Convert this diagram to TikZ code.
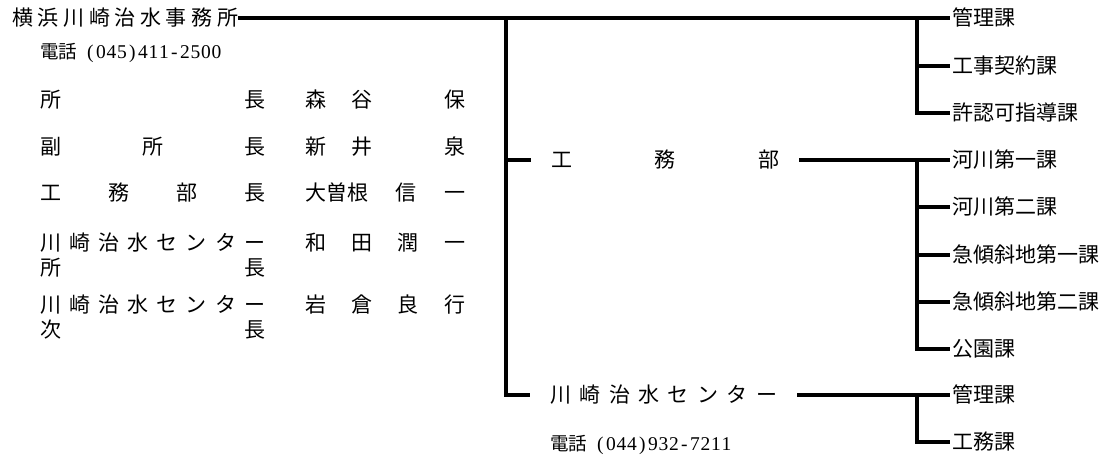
\documentclass[tikz,border=0pt]{standalone}
\usepackage{fontspec}
\setmainfont{Liberation Serif}
\newfontfamily\jpfont{Noto Sans CJK JP}
\usepackage{tikz}
\usetikzlibrary{positioning, calc}
\newcommand{\spreadbox}[2]{\makebox[#1][s]{#2}}
\makeatletter
\newcommand{\telno}[1]{\@tfor\tel@c:=#1\do{\makebox[10.5pt]{\tel@c}}}
\makeatother
\tikzset{
  orgline/.style={
    line width=3.1pt, line join=miter
  },
  unitlabel/.style={
    anchor=west, inner sep=0pt, text height=17.6pt, text depth=1.7pt,
    font=\jpfont\fontsize{21}{24}\selectfont
  },
  sectlabel/.style={
    unitlabel, inner xsep=2pt
  },
  branchlabel/.style={
    unitlabel, inner xsep=20pt
  },
  phonelabel/.style={
    anchor=west, inner sep=0pt, font=\fontsize{19.5}{22}\selectfont
  }
}

\begin{document}
\begin{tikzpicture}[x=1pt, y=-1pt]
  \useasboundingbox (0,0) rectangle (1113,457);

  % office and its staff
  \node[unitlabel] (office) at (12,18) {\spreadbox{226pt}{横\hfill 浜\hfill 川\hfill 崎\hfill 治\hfill 水\hfill 事\hfill 務\hfill 所}};
  \node[phonelabel] (officetel) at (40,53) {{\jpfont\fontsize{18.5}{22}\selectfont 電話}\hspace{8pt}\telno{(045)411-2500}};

  \node[unitlabel] (post1) at (40,100) {\spreadbox{225pt}{所\hfill 長}};
  \node[unitlabel] (name1) at (305,100) {\spreadbox{160pt}{森\hfill 谷\hfill \phantom{谷}\hfill 保}};
  \node[unitlabel] (post2) at (40,147) {\spreadbox{225pt}{副\hfill 所\hfill 長}};
  \node[unitlabel] (name2) at (305,147) {\spreadbox{160pt}{新\hfill 井\hfill \phantom{井}\hfill 泉}};
  \node[unitlabel] (post3) at (40,193) {\spreadbox{225pt}{工\hfill 務\hfill 部\hfill 長}};
  \node[unitlabel] (name3) at (305,193) {\spreadbox{160pt}{大曽根\hfill 信\hfill 一}};
  \node[unitlabel] (post4) at (40,243) {\spreadbox{225pt}{川\hfill 崎\hfill 治\hfill 水\hfill セ\hfill ン\hfill タ\hfill ー}};
  \node[unitlabel] (post4b) at (40,268) {\spreadbox{225pt}{所\hfill 長}};
  \node[unitlabel] (name4) at (305,243) {\spreadbox{160pt}{和\hfill 田\hfill 潤\hfill 一}};
  \node[unitlabel] (post5) at (40,305) {\spreadbox{225pt}{川\hfill 崎\hfill 治\hfill 水\hfill セ\hfill ン\hfill タ\hfill ー}};
  \node[unitlabel] (post5b) at (40,330) {\spreadbox{225pt}{次\hfill 長}};
  \node[unitlabel] (name5) at (305,305) {\spreadbox{160pt}{岩\hfill 倉\hfill 良\hfill 行}};

  % departments
  \node[branchlabel] (koumu) at (531,160) {\spreadbox{228pt}{工\hfill 務\hfill 部}};
  \node[branchlabel] (center) at (530,395) {\spreadbox{227pt}{川\hfill 崎\hfill 治\hfill 水\hfill セ\hfill ン\hfill タ\hfill ー}};
  \node[phonelabel] (centertel) at (550,445) {{\jpfont\fontsize{18.5}{22}\selectfont 電話}\hspace{8pt}\telno{(044)932-7211}};

  % sections
  \node[sectlabel] (kanri) at (950,18) {管理課};
  \node[sectlabel] (keiyaku) at (950,66) {工事契約課};
  \node[sectlabel] (kyoka) at (950,113) {許認可指導課};
  \node[sectlabel] (kasen1) at (950,160) {河川第一課};
  \node[sectlabel] (kasen2) at (950,207) {河川第二課};
  \node[sectlabel] (kyusha1) at (950,255) {急傾斜地第一課};
  \node[sectlabel] (kyusha2) at (950,302) {急傾斜地第二課};
  \node[sectlabel] (kouen) at (950,349) {公園課};
  \node[sectlabel] (ckanri) at (950,395) {管理課};
  \node[sectlabel] (ckoumu) at (950,442) {工務課};

  \coordinate (trunk) at (506,18);
  \coordinate (bus) at (917,18);

  \draw[orgline] (office) -- (kanri);
  \draw[orgline] (bus) |- (kyoka);
  \draw[orgline] (bus |- keiyaku) -- (keiyaku);

  \draw[orgline] (trunk) |- (center);
  \draw[orgline] (trunk |- koumu) -- (koumu);

  \draw[orgline] (koumu) -- (kasen1);
  \draw[orgline] (bus |- kasen1) |- (kouen);
  \draw[orgline] (bus |- kasen2) -- (kasen2);
  \draw[orgline] (bus |- kyusha1) -- (kyusha1);
  \draw[orgline] (bus |- kyusha2) -- (kyusha2);

  \draw[orgline] (center) -- (ckanri);
  \draw[orgline] (bus |- ckanri) |- (ckoumu);
\end{tikzpicture}
\end{document}
